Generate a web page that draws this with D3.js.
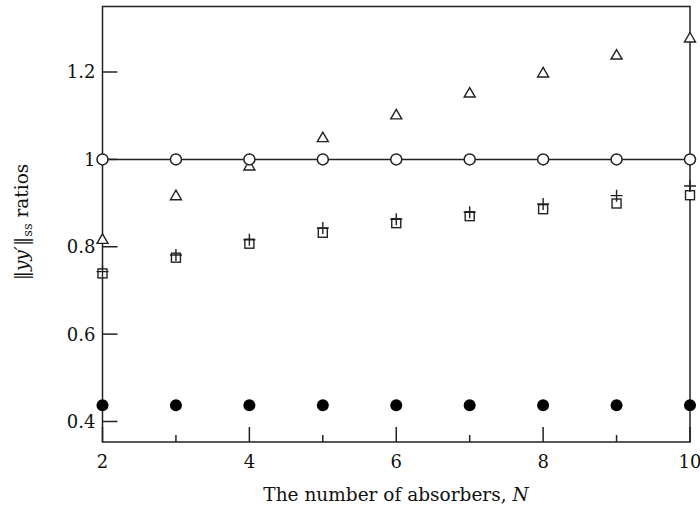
<!DOCTYPE html>
<html>
<head>
<meta charset="utf-8">
<script src="https://cdn.jsdelivr.net/npm/d3@7"></script>
<style>
html,body{margin:0;padding:0;background:#fff;}
svg text{font-family:"DejaVu Serif","Liberation Serif",serif;fill:#111;}
</style>
</head>
<body>
<svg id="chart" width="700" height="510"></svg>
<script>
const N = [2,3,4,5,6,7,8,9,10];
const openCircles = [1,1,1,1,1,1,1,1,1];
const filledCircles = [0.437,0.437,0.437,0.437,0.437,0.437,0.437,0.437,0.437];
const triangles = [0.818,0.918,0.986,1.051,1.103,1.153,1.199,1.240,1.279];
const squares = [0.739,0.775,0.807,0.832,0.854,0.870,0.886,0.899,0.918];
const pluses = [0.743,0.781,0.816,0.843,0.863,0.879,0.898,0.917,0.939];
const yTicks = [0.4,0.6,0.8,1,1.2];
const yTickLabels = ["0.4","0.6","0.8","1","1.2"];
const xTicksMajor = [2,4,6,8,10];
const xTicksMinor = [3,5,7,9];

const svg = d3.select("#chart");
const m = {left:102.5, right:690, top:6.5, bottom:442};
const x = d3.scaleLinear().domain([2,10]).range([m.left, m.right]);
const y = d3.scaleLinear().domain([0.4,1.2]).range([421.5, 72]);
const ink = "#222";

// frame
svg.append("rect").attr("x",m.left).attr("y",m.top)
  .attr("width",m.right-m.left).attr("height",m.bottom-m.top)
  .attr("fill","none").attr("stroke",ink).attr("stroke-width",1.5);

// y ticks
const gy = svg.append("g");
yTicks.forEach((v,i)=>{
  gy.append("line").attr("x1",m.left).attr("x2",m.left+15)
    .attr("y1",y(v)).attr("y2",y(v)).attr("stroke",ink).attr("stroke-width",1.5);
  gy.append("text").attr("x",m.left-7).attr("y",y(v)).attr("dy","0.36em")
    .attr("text-anchor","end").attr("font-size",18).text(yTickLabels[i]);
});
// x ticks
xTicksMajor.forEach(v=>{
  svg.append("line").attr("x1",x(v)).attr("x2",x(v))
    .attr("y1",m.bottom).attr("y2",m.bottom-15).attr("stroke",ink).attr("stroke-width",1.5);
  svg.append("text").attr("x",x(v)).attr("y",468).attr("text-anchor","middle")
    .attr("font-size",18).text(v);
});
xTicksMinor.forEach(v=>{
  svg.append("line").attr("x1",x(v)).attr("x2",x(v))
    .attr("y1",m.bottom).attr("y2",m.bottom-7).attr("stroke",ink).attr("stroke-width",1.5);
});

// axis labels
svg.append("text").attr("x",396).attr("y",501).attr("text-anchor","middle")
  .attr("font-size",18.5)
  .call(t=>{t.append("tspan").text("The number of absorbers, ");
            t.append("tspan").attr("font-style","italic").text("N");});
const yl = svg.append("text").attr("transform","translate(28,222) rotate(-90)")
  .attr("text-anchor","middle").attr("font-size",18.5);
yl.append("tspan").text("\u2016");
yl.append("tspan").attr("font-style","italic").text("yy\u2032");
yl.append("tspan").text("\u2016");
yl.append("tspan").attr("font-size",13).attr("dy",4).text("ss");
yl.append("tspan").attr("dy",-4).text(" ratios");

// line through open circles
const line = d3.line().x((d,i)=>x(N[i])).y(d=>y(d));
svg.append("path").datum(openCircles).attr("d",line)
  .attr("fill","none").attr("stroke",ink).attr("stroke-width",1.5);

// triangles
svg.append("g").selectAll("path").data(triangles).join("path")
  .attr("transform",(d,i)=>`translate(${x(N[i])},${y(d)})`)
  .attr("d","M0,-5L5.5,4.5L-5.5,4.5Z")
  .attr("fill","#fff").attr("stroke",ink).attr("stroke-width",1.4);

// squares
svg.append("g").selectAll("rect").data(squares).join("rect")
  .attr("x",(d,i)=>x(N[i])-4.5).attr("y",d=>y(d)-4.5)
  .attr("width",9).attr("height",9)
  .attr("fill","#fff").attr("stroke",ink).attr("stroke-width",1.4);

// pluses
svg.append("g").selectAll("path").data(pluses).join("path")
  .attr("transform",(d,i)=>`translate(${x(N[i])},${y(d)})`)
  .attr("d","M-6,0H6M0,-6V6")
  .attr("fill","none").attr("stroke",ink).attr("stroke-width",1.4);

// open circles
svg.append("g").selectAll("circle").data(openCircles).join("circle")
  .attr("cx",(d,i)=>x(N[i])).attr("cy",d=>y(d)).attr("r",5.5)
  .attr("fill","#fff").attr("stroke",ink).attr("stroke-width",1.5);

// filled circles
svg.append("g").selectAll("circle").data(filledCircles).join("circle")
  .attr("cx",(d,i)=>x(N[i])).attr("cy",d=>y(d)).attr("r",6)
  .attr("fill","#000");
</script>
</body>
</html>
